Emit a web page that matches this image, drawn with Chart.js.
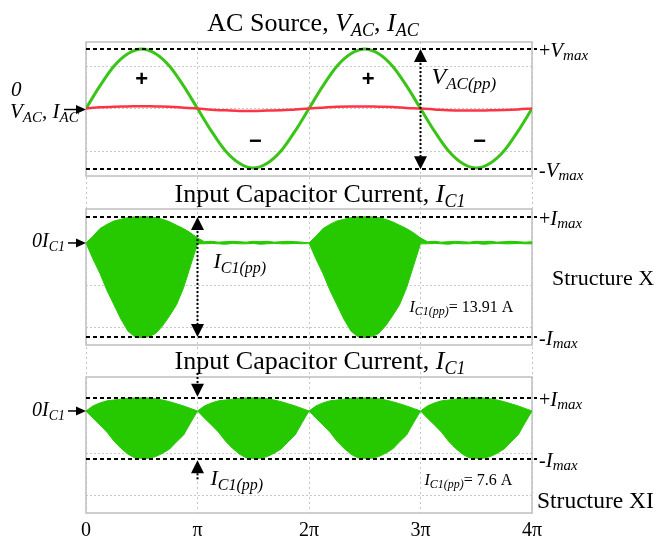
<!DOCTYPE html>
<html>
<head>
<meta charset="utf-8">
<script src="https://cdn.jsdelivr.net/npm/chart.js@4.4.1/dist/chart.umd.min.js"></script>
<style>
  html, body { margin: 0; background: #fff; }
  #wrap { position: relative; width: 656px; height: 543px; }
</style>
</head>
<body>
<div id="wrap"><canvas id="c"></canvas></div>
<script>
// x is measured in multiples of pi
const xTickValues = [0, 1, 2, 3, 4];
const xTickLabels = ['0', 'π', '2π', '3π', '4π'];

// AC source (per unit of Vmax), one sample every pi/8
const vAC = [0, 0.38, 0.71, 0.92, 1, 0.92, 0.71, 0.38, 0, -0.38, -0.71, -0.92, -1, -0.92, -0.71, -0.38,
             0, 0.38, 0.71, 0.92, 1, 0.92, 0.71, 0.38, 0, -0.38, -0.71, -0.92, -1, -0.92, -0.71, -0.38, 0];
const iAC = [0, 0.02, 0.03, 0.035, 0.04, 0.035, 0.03, 0.015, 0, -0.02, -0.03, -0.04, -0.04, -0.035, -0.03, -0.015,
             0, 0.015, 0.03, 0.035, 0.035, 0.03, 0.025, 0.01, 0, -0.015, -0.03, -0.035, -0.035, -0.03, -0.025, -0.015, 0];

// input capacitor current envelopes (A), one sample every pi/16
const icXUpper = [
  0, 0.8, 1.7, 2.2, 2.6, 2.8, 3.0, 3.1, 3.1, 3.1, 3.0, 2.8, 2.5, 2.1, 1.7, 1.2, 0.6,
  0.15, 0.2, 0.1, 0.15, 0.2, 0.15, 0.1, 0.2, 0.15, 0.2, 0.1, 0.15, 0.2, 0.15, 0.1,
  0, 0.8, 1.7, 2.2, 2.6, 2.8, 3.0, 3.1, 3.1, 3.1, 3.0, 2.8, 2.5, 2.1, 1.7, 1.2, 0.6,
  0.15, 0.2, 0.1, 0.15, 0.2, 0.15, 0.1, 0.2, 0.15, 0.2, 0.1, 0.15, 0.2, 0.15, 0.1, 0.15];
const icXLower = [
  0, -1.9, -3.6, -5.6, -7.3, -9.0, -10.4, -11.1, -11.2, -11.1, -10.7, -9.8, -8.6, -7.3, -5.3, -2.7, -0.1,
  -0.1, -0.05, -0.1, -0.15, -0.05, -0.1, -0.1, -0.05, -0.15, -0.1, -0.05, -0.1, -0.1, -0.05, -0.1,
  0, -1.9, -3.6, -5.6, -7.3, -9.0, -10.4, -11.1, -11.2, -11.1, -10.7, -9.8, -8.6, -7.3, -5.3, -2.7, -0.1,
  -0.1, -0.05, -0.1, -0.15, -0.05, -0.1, -0.1, -0.05, -0.15, -0.1, -0.05, -0.1, -0.1, -0.05, -0.1, -0.1];
const icXIUpper = [
  0, 0.6, 0.95, 1.2, 1.3, 1.4, 1.5, 1.55, 1.55, 1.55, 1.45, 1.3, 1.1, 0.85, 0.6, 0.3,
  0, 0.6, 0.95, 1.2, 1.3, 1.4, 1.5, 1.55, 1.55, 1.55, 1.45, 1.3, 1.1, 0.85, 0.6, 0.3,
  0, 0.6, 0.95, 1.2, 1.3, 1.4, 1.5, 1.55, 1.55, 1.55, 1.45, 1.3, 1.1, 0.85, 0.6, 0.3,
  0, 0.6, 0.95, 1.2, 1.3, 1.4, 1.5, 1.55, 1.55, 1.55, 1.45, 1.3, 1.1, 0.85, 0.6, 0.3, 0];
const icXILower = [
  0, -0.85, -1.65, -2.5, -3.55, -4.4, -5.1, -5.55, -5.6, -5.6, -5.4, -5.0, -4.5, -3.65, -2.85, -1.4,
  0, -0.85, -1.65, -2.5, -3.55, -4.4, -5.1, -5.55, -5.6, -5.6, -5.4, -5.0, -4.5, -3.65, -2.85, -1.4,
  0, -0.85, -1.65, -2.5, -3.55, -4.4, -5.1, -5.55, -5.6, -5.6, -5.4, -5.0, -4.5, -3.65, -2.85, -1.4,
  0, -0.85, -1.65, -2.5, -3.55, -4.4, -5.1, -5.55, -5.6, -5.6, -5.4, -5.0, -4.5, -3.65, -2.85, -1.4, 0];

// dashed +max / -max levels
const vLevels = [1, -1.02];
const icXLevels = [3.08, -11.12];
const icXILevels = [1.57, -5.72];

// dotted horizontal grid inside each panel
const vGrid = [-0.714, 0, 0.714];
const iGrid = [-10, -5, 0];

// + / - marks on the voltage half cycles: [x (pi), y (pu), sign]
const signMarks = [[0.5, 0.48, '+'], [1.52, -0.56, '−'], [2.53, 0.48, '+'], [3.53, -0.56, '−']];

const SERIF = '"Liberation Serif", "Times New Roman", serif';
const GREEN = 'rgb(58,196,24)';
const FILL = 'rgb(38,201,0)';

const pts = (ys, step) => ys.map((y, i) => ({ x: i * step, y }));

// parts: [text, size, italic, drop]
function rich(ctx, parts, x, y, align) {
  const font = p => (p[2] ? 'italic ' : '') + p[1] + 'px ' + SERIF;
  let w = 0;
  parts.forEach(p => { ctx.font = font(p); w += ctx.measureText(p[0]).width; });
  let cx = align === 'center' ? x - w / 2 : x;
  ctx.textAlign = 'left';
  ctx.textBaseline = 'alphabetic';
  ctx.fillStyle = '#000';
  parts.forEach(p => {
    ctx.font = font(p);
    ctx.fillText(p[0], cx, y + (p[3] || 0));
    cx += ctx.measureText(p[0]).width;
  });
}

function head(ctx, x, y, dx, dy, len, half) {
  const bx = x - dx * len, by = y - dy * len;
  ctx.beginPath();
  ctx.moveTo(x, y);
  ctx.lineTo(bx - dy * half, by + dx * half);
  ctx.lineTo(bx + dy * half, by - dx * half);
  ctx.closePath();
  ctx.fill();
}

function dotted(ctx, x1, y1, x2, y2) {
  ctx.save();
  ctx.setLineDash([2, 2]);
  ctx.lineWidth = 2;
  ctx.beginPath(); ctx.moveTo(x1, y1); ctx.lineTo(x2, y2); ctx.stroke();
  ctx.restore();
}

const annotations = {
  id: 'annotations',
  beforeDatasetsDraw(chart) {
    const { ctx, chartArea: a, scales: s } = chart;
    ctx.save();
    ctx.strokeStyle = '#bfbfbf';
    ctx.lineWidth = 1.5;
    ['yV', 'yX', 'yXI'].forEach(id => ctx.strokeRect(a.left, s[id].top, a.right - a.left, s[id].bottom - s[id].top));
    ctx.restore();
  },
  afterDatasetsDraw(chart) {
    const { ctx, chartArea: a, scales: s } = chart;
    const X = v => s.x.getPixelForValue(v);
    const L = a.left, R = a.right, mid = (L + R) / 2;
    ctx.save();
    ctx.strokeStyle = '#000';
    ctx.fillStyle = '#000';

    // dashed max levels
    ctx.lineWidth = 2;
    ctx.setLineDash([4, 3]);
    [['yV', vLevels], ['yX', icXLevels], ['yXI', icXILevels]].forEach(([id, lv]) => lv.forEach(v => {
      const y = Math.round(s[id].getPixelForValue(v));
      ctx.beginPath(); ctx.moveTo(L, y); ctx.lineTo(R + 5, y); ctx.stroke();
    }));
    ctx.setLineDash([]);

    // peak-to-peak arrows
    const vTop = s.yV.getPixelForValue(vLevels[0]), vBot = s.yV.getPixelForValue(vLevels[1]);
    dotted(ctx, X(3), vTop + 10, X(3), vBot - 10);
    head(ctx, X(3), vTop, 0, -1, 13, 6.5);
    head(ctx, X(3), vBot, 0, 1, 13, 6.5);

    const xTop = s.yX.getPixelForValue(icXLevels[0]), xBot = s.yX.getPixelForValue(icXLevels[1]);
    dotted(ctx, X(1), xTop + 10, X(1), xBot - 10);
    head(ctx, X(1), xTop, 0, -1, 13, 6.5);
    head(ctx, X(1), xBot, 0, 1, 13, 6.5);

    const xiTop = s.yXI.getPixelForValue(icXILevels[0]), xiBot = s.yXI.getPixelForValue(icXILevels[1]);
    dotted(ctx, X(1), s.yXI.top - 4, X(1), xiTop - 10);
    head(ctx, X(1), xiTop - 1, 0, 1, 13, 6.5);
    dotted(ctx, X(1), xiBot + 10, X(1), xiBot + 20);
    head(ctx, X(1), xiBot + 1, 0, -1, 13, 6.5);

    // zero markers on the left
    const y0V = s.yV.getPixelForValue(0), y0X = s.yX.getPixelForValue(0), y0XI = s.yXI.getPixelForValue(0);
    ctx.lineWidth = 1.5;
    [[y0V + 1, 22], [y0X, 18], [y0XI, 18]].forEach(([y, len]) => {
      ctx.beginPath(); ctx.moveTo(L - len, y); ctx.lineTo(L - 6, y); ctx.stroke();
      head(ctx, L, y, 1, 0, 10, 4.5);
    });

    // signs on the voltage half cycles
    ctx.font = 'bold 22px "Liberation Sans", Arial, sans-serif';
    ctx.textAlign = 'center';
    ctx.textBaseline = 'middle';
    signMarks.forEach(([x, y, t]) => ctx.fillText(t, X(x), s.yV.getPixelForValue(y)));

    // titles
    rich(ctx, [['AC Source, ', 26], ['V', 26, 1], ['AC', 18, 1, 5], [', ', 26], ['I', 26, 1], ['AC', 18, 1, 5]],
      mid + 4, s.yV.top - 11, 'center');
    const capTitle = [['Input Capacitor Current, ', 26], ['I', 26, 1], ['C1', 18, 1, 5]];
    rich(ctx, capTitle, mid + 11, s.yX.top - 7, 'center');
    rich(ctx, capTitle, mid + 11, s.yXI.top - 8, 'center');

    // left labels
    rich(ctx, [['0', 21, 1]], 11, y0V - 13);
    rich(ctx, [['V', 21, 1], ['AC', 15, 1, 4], [', ', 21], ['I', 21, 1], ['AC', 15, 1, 4]], 10, y0V + 9);
    const zeroI = [['0', 20, 1], ['I', 20, 1], ['C1', 14, 1, 4]];
    rich(ctx, zeroI, 32, y0X + 4);
    rich(ctx, zeroI, 32, y0XI + 5);

    // right labels
    const maxLabel = (sign, sym, id, v) =>
      rich(ctx, [[sign, 20], [sym, 21, 1], ['max', 15, 1, 3]], R + 7, s[id].getPixelForValue(v) + 8);
    maxLabel('+', 'V', 'yV', vLevels[0]);
    maxLabel('-', 'V', 'yV', vLevels[1]);
    maxLabel('+', 'I', 'yX', icXLevels[0]);
    maxLabel('-', 'I', 'yX', icXLevels[1]);
    maxLabel('+', 'I', 'yXI', icXILevels[0]);
    maxLabel('-', 'I', 'yXI', icXILevels[1]);

    // peak-to-peak labels
    rich(ctx, [['V', 24, 1], ['AC(pp)', 17, 1, 5]], X(3) + 11, y0V - 25);
    rich(ctx, [['I', 22, 1], ['C1(pp)', 16, 1, 5]], X(1) + 16, y0X + 25);
    rich(ctx, [['I', 22, 1], ['C1(pp)', 16, 1, 5]], X(1) + 13, xiBot + 26);
    rich(ctx, [['I', 16, 1], ['C1(pp)', 12, 1, 3], ['= 13.91 A', 16]], X(3) - 11, y0X + 69);
    rich(ctx, [['I', 16, 1], ['C1(pp)', 12, 1, 3], ['= 7.6 A', 16]], X(3) + 4, xiBot + 26);

    rich(ctx, [['Structure X', 22]], R + 20, y0X + 42);
    rich(ctx, [['Structure XI', 23.5]], R + 5, s.yXI.bottom - 5);
    ctx.restore();
  }
};

const panelAxis = (min, max, grid, weight, stackWeight) => ({
  type: 'linear', position: 'left', stack: 'panels', stackWeight, weight, min, max,
  afterBuildTicks: sc => { sc.ticks = grid.map(v => ({ value: v })); },
  ticks: { display: false },
  grid: { color: '#c8c8c8', lineWidth: 1, drawTicks: false },
  border: { display: false, dash: [2, 2] }
});
const gapAxis = (weight, stackWeight) => ({
  type: 'linear', position: 'left', stack: 'panels', stackWeight, weight, min: 0, max: 1,
  ticks: { display: false },
  grid: { display: false, drawTicks: false },
  border: { display: false }
});

new Chart(document.getElementById('c'), {
  type: 'line',
  data: {
    datasets: [
      { label: 'IAC', data: pts(iAC, 1 / 8), yAxisID: 'yV', borderColor: 'rgb(255,51,68)', borderWidth: 2.5,
        cubicInterpolationMode: 'monotone' },
      { label: 'VAC', data: pts(vAC, 1 / 8), yAxisID: 'yV', borderColor: GREEN, borderWidth: 3,
        cubicInterpolationMode: 'monotone' },
      { label: 'IC1 X upper', data: pts(icXUpper, 1 / 16), yAxisID: 'yX', borderColor: FILL, borderWidth: 1 },
      { label: 'IC1 X lower', data: pts(icXLower, 1 / 16), yAxisID: 'yX', borderColor: FILL, borderWidth: 1,
        backgroundColor: FILL, fill: '-1' },
      { label: 'IC1 XI upper', data: pts(icXIUpper, 1 / 16), yAxisID: 'yXI', borderColor: FILL, borderWidth: 1 },
      { label: 'IC1 XI lower', data: pts(icXILower, 1 / 16), yAxisID: 'yXI', borderColor: FILL, borderWidth: 1,
        backgroundColor: FILL, fill: '-1' }
    ]
  },
  options: {
    responsive: true,
    maintainAspectRatio: false,
    animation: false,
    layout: { padding: { left: 86, right: 124, top: 42, bottom: -6 } },
    elements: { point: { radius: 0 } },
    plugins: { legend: { display: false }, tooltip: { enabled: false } },
    scales: {
      x: {
        type: 'linear', min: 0, max: 4,
        afterBuildTicks: sc => { sc.ticks = xTickValues.map(v => ({ value: v })); },
        ticks: { callback: (v, i) => xTickLabels[i], color: '#000', font: { family: SERIF, size: 20 },
                 padding: 6, maxRotation: 0, autoSkip: false },
        grid: { color: '#c4c4c4', drawTicks: false },
        border: { display: false, dash: [2, 3] }
      },
      yV: panelAxis(-1.134, 1.118, vGrid, 5, 134),
      gap1: gapAxis(4, 33),
      yX: panelAxis(-12.07, 4.02, iGrid, 3, 136),
      gap2: gapAxis(2, 32),
      yXI: panelAxis(-12.07, 4.02, iGrid, 1, 136)
    }
  },
  plugins: [annotations]
});
</script>
</body>
</html>
